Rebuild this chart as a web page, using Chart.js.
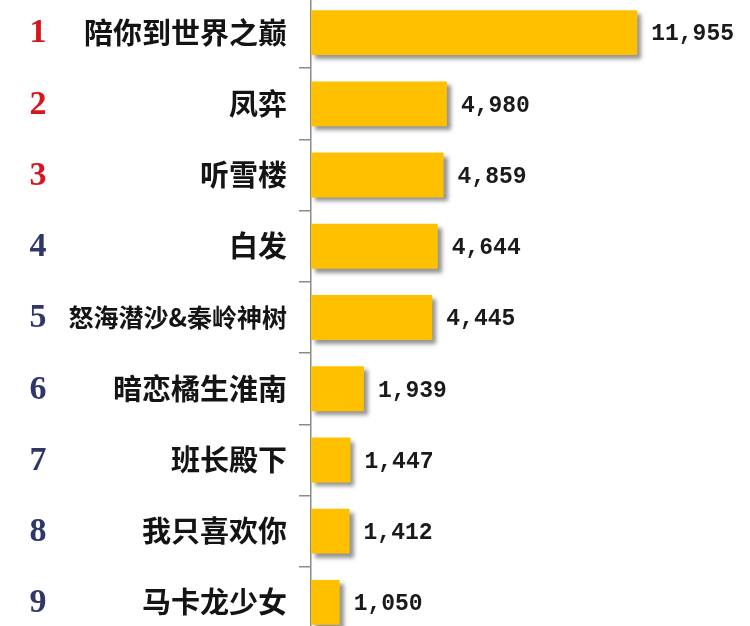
<!DOCTYPE html>
<html>
<head>
<meta charset="utf-8">
<script src="https://cdn.jsdelivr.net/npm/chart.js@4.4.1/dist/chart.umd.min.js"></script>
<style>
  html, body { margin: 0; padding: 0; background: #fff; overflow: hidden; }
  #wrap { position: absolute; left: 0; top: -3px; width: 750px; height: 641px; }
</style>
</head>
<body>
<div id="wrap"><canvas id="rankChart"></canvas></div>
<script>
// 排行数据
const ranks = [1, 2, 3, 4, 5, 6, 7, 8, 9];
const titles = ['陪你到世界之巅', '凤弈', '听雪楼', '白发', '怒海潜沙&秦岭神树', '暗恋橘生淮南', '班长殿下', '我只喜欢你', '马卡龙少女'];
const plays = [11955, 4980, 4859, 4644, 4445, 1939, 1447, 1412, 1050];

const RED = '#d8141c';
const NAVY = '#2e3768';

// 柱子阴影
const shadowPlugin = {
    id: 'barShadow',
    beforeDatasetDraw(chart) {
        const ctx = chart.ctx;
        ctx.save();
        ctx.shadowColor = 'rgba(60, 60, 60, 0.55)';
        ctx.shadowBlur = 4;
        ctx.shadowOffsetX = 4;
        ctx.shadowOffsetY = 4;
    },
    afterDatasetDraw(chart) {
        chart.ctx.restore();
    }
};

// 左侧名次数字
const rankPlugin = {
    id: 'rankNumbers',
    afterDraw(chart) {
        const ctx = chart.ctx;
        const y = chart.scales.y;
        ctx.save();
        ctx.font = 'bold 34px "Liberation Serif", serif';
        ctx.textAlign = 'center';
        ctx.textBaseline = 'middle';
        ranks.forEach((r, i) => {
            ctx.fillStyle = r <= 3 ? RED : NAVY;
            ctx.fillText(String(r), 38, y.getPixelForValue(i) + 1);
        });
        ctx.restore();
    }
};

// 柱子右侧数值
const valuePlugin = {
    id: 'valueLabels',
    afterDatasetsDraw(chart) {
        const ctx = chart.ctx;
        const meta = chart.getDatasetMeta(0);
        ctx.save();
        ctx.font = 'bold 23px "Liberation Mono", monospace';
        ctx.fillStyle = '#1a1a1a';
        ctx.textAlign = 'left';
        ctx.textBaseline = 'middle';
        meta.data.forEach((bar, i) => {
            ctx.fillText(plays[i].toLocaleString('en-US'), bar.x + 14, bar.y + 2);
        });
        ctx.restore();
    }
};

new Chart(document.getElementById('rankChart'), {
    type: 'bar',
    data: {
        labels: titles,
        datasets: [{
            data: plays,
            backgroundColor: '#ffc000',
            borderWidth: 0,
            categoryPercentage: 1,
            barPercentage: 0.63
        }]
    },
    options: {
        indexAxis: 'y',
        responsive: true,
        maintainAspectRatio: false,
        animation: false,
        layout: { padding: { left: 0, right: 57, top: 0, bottom: 0 } },
        plugins: {
            legend: { display: false },
            tooltip: { enabled: false }
        },
        scales: {
            x: {
                display: false,
                min: 0,
                max: 14000
            },
            y: {
                afterFit(scale) {
                    scale.width = 311;
                    scale.paddingTop = 0;
                    scale.paddingBottom = 0;
                },
                grid: {
                    drawOnChartArea: false,
                    drawTicks: true,
                    tickLength: 12,
                    color: '#8a8a8a',
                    lineWidth: 1.5,
                    offset: true
                },
                border: { display: true, color: '#8a8a8a', width: 1.5 },
                ticks: {
                    padding: 12,
                    color: '#141414',
                    font: (c) => ({
                        family: '"Noto Sans CJK SC", sans-serif',
                        weight: 'bold',
                        size: (c.tick && c.tick.label.length > 7) ? 25 : 29
                    })
                }
            }
        }
    },
    plugins: [shadowPlugin, rankPlugin, valuePlugin]
});
</script>
</body>
</html>
